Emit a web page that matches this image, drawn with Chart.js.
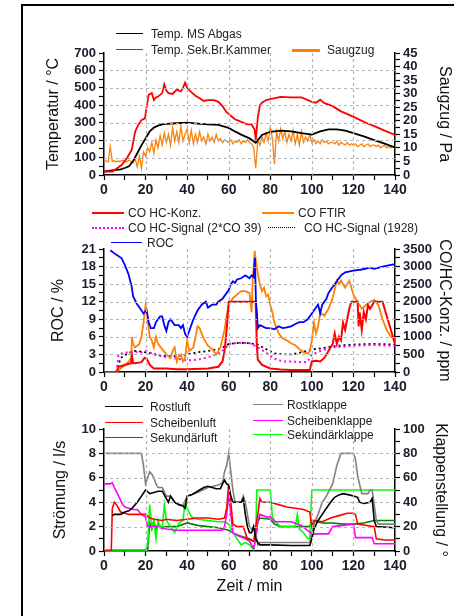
<!DOCTYPE html>
<html>
<head>
<meta charset="utf-8">
<script src="https://cdn.jsdelivr.net/npm/chart.js@4.4.1/dist/chart.umd.min.js"></script>
<style>
body { margin: 0; background: #fff; }
#page { position: relative; width: 454px; height: 616px; overflow: hidden; font-family: 'Liberation Sans', Arial, sans-serif; }
#frameL { position: absolute; left: 21px; top: 4px; width: 2px; height: 612px; background: #000; }
#frameT { position: absolute; left: 21px; top: 4px; width: 433px; height: 2px; background: #000; }
canvas { position: absolute; left: 0; }
.leg { position: absolute; font-size: 12px; color: #222; white-space: nowrap; line-height: 14px; z-index: 5; }
.leg span.ln { position: absolute; top: 7px; }
</style>
</head>
<body>
<div id="page">
  <div id="frameL"></div>
  <div id="frameT"></div>
  <canvas id="c1" width="454" height="160" style="top:40px"></canvas>
  <canvas id="c2" width="454" height="195" style="top:200px"></canvas>
  <canvas id="c3" width="454" height="221" style="top:395px"></canvas>
</div>
<script>
// ---- top panel: temperatures (°C) and Saugzug (Pa) over time (min)
const msAbgasT = [0, 5, 8, 10, 12, 14, 16, 18, 20, 22,
                  24, 26, 28, 30, 35, 40, 45, 50, 55, 60,
                  63, 66, 70, 73, 76, 80, 85, 90, 95, 100,
                  104, 108, 112, 116, 120, 125, 130, 135, 140];
const msAbgas  = [20, 28, 32, 40, 50, 80, 125, 170, 210, 250,
                  272, 283, 290, 293, 297, 300, 295, 290, 288, 270,
                  250, 232, 210, 185, 230, 248, 255, 250, 240, 232,
                  250, 262, 262, 255, 240, 222, 200, 180, 158];

const sekKammerT = [0, 4, 8.5, 11, 13.3, 15, 16.5, 18, 19.7, 20.5,
                    21.5, 23, 24, 25, 26, 28, 29, 30, 31, 33,
                    35, 37, 38, 39, 40, 42, 44, 46, 48, 50,
                    53, 55, 57, 59, 61, 63, 66, 69, 71, 72.5,
                    73, 74, 75, 76, 78, 80, 85, 90, 95, 100,
                    102, 104, 106, 110, 114, 118, 122, 126, 130, 135,
                    140];
const sekKammer  = [20, 20, 57, 96, 143, 250, 287, 315, 325, 390,
                    460, 470, 430, 445, 450, 470, 520, 485, 470, 465,
                    490, 480, 500, 530, 500, 475, 455, 440, 425, 430,
                    430, 420, 395, 360, 340, 320, 305, 290, 290, 260,
                    200, 330, 400, 415, 430, 435, 448, 445, 445, 420,
                    415, 432, 412, 395, 365, 345, 322, 300, 280, 255,
                    230];

// Saugzug, one value per minute from 0 to 140
const saugzug = [5, 5.2, 4.8, 10.5, 5, 5.3, 4.9, 5.1, 5, 5.4,
                 5, 4.8, 5.5, 5, 4.6, 6, 3, 7, 2.5, 8.5,
                 7, 10, 8.5, 12, 8, 13, 10, 14.5, 11, 15.5,
                 12, 15, 11, 17.5, 12.5, 16, 12, 18, 12.5, 15,
                 17, 12, 16.5, 11.5, 15, 12, 16, 12.5, 14, 11.5,
                 15, 12.5, 14, 12, 15, 12.5, 13.5, 12, 13, 12.5,
                 12, 13, 11.5, 12.5, 12, 13, 11.5, 12.5, 12, 13,
                 12, 11.5, 10, 2.5, 13, 11, 14, 12, 15.5, 12.5,
                 17.5, 13.5, 4, 16, 12.5, 17, 13.5, 16, 12, 15,
                 12.5, 16.5, 11.5, 15, 11, 16, 12, 14, 12.5, 15,
                 12, 13, 11.5, 12.5, 11.5, 13, 12, 12.5, 11.5, 12,
                 12, 11.5, 12.5, 11, 12, 11.5, 11, 12, 11, 11.5,
                 11, 11.5, 10.5, 11, 11.5, 10.5, 11, 11.5, 10.5, 11,
                 11, 10.5, 11, 10, 10.5, 11, 10, 10.5, 10, 10.5,
                 10];

// ---- middle panel: ROC (%) and CO / HC (ppm)
const rocT = [3, 6, 8.5, 10, 11.7, 13.3, 14, 15.7, 17.3, 19,
              20.5, 21.5, 22.5, 24, 25, 26, 27, 28, 29, 30,
              31, 32, 34, 36, 37, 38, 39, 40, 41, 43,
              45, 47, 49, 50, 52, 54, 55, 57, 58, 60,
              61, 62, 63, 64, 66, 68, 70, 71, 72, 72.6,
              73.1, 73.6, 74, 75, 78, 80, 82, 84, 86, 88,
              90, 92, 94, 96, 98, 100, 102, 103, 104, 105,
              107, 108, 110, 112, 114, 116, 120, 124, 128, 130,
              134, 138, 140];
const roc  = [20.8, 20, 19.4, 18.3, 16.8, 14.6, 12.9, 11.7, 10.9, 10,
              10.6, 8.5, 7.5, 7.5, 8.5, 9, 9.5, 9.5, 8, 7,
              8.5, 9, 8, 8, 7.5, 8, 6.5, 6, 7, 9,
              10.5, 11.5, 12, 11, 11.5, 11.5, 12, 12.5, 13, 14,
              15, 15.5, 15.2, 15.8, 16, 16.5, 16, 16.5, 16.2, 19.5,
              12, 10, 7.5, 8, 7.5, 7.5, 7.3, 7.8, 7.5, 7.6,
              7.8, 8.2, 8.5, 8.5, 9, 10, 11, 11.5, 10, 11.5,
              12.5, 13.5, 14.5, 15.5, 16.5, 17, 17.3, 17.5, 17.8, 17.6,
              18, 18.3, 18.4];

const coFtirT = [6, 8, 10, 12, 13, 13.5, 14, 15, 17, 18,
                 19, 20, 21, 22, 23, 24, 25, 26, 28, 30,
                 32, 33, 34, 35, 36, 37, 38, 39, 40, 41,
                 43, 45, 46, 48, 50, 52, 54, 55, 56, 58,
                 59, 60, 62, 64, 66, 68, 70, 71, 71.5, 72,
                 72.5, 73, 74, 75, 76, 77, 78, 79, 80, 81,
                 82, 84, 86, 88, 90, 92, 94, 96, 98, 99,
                 100, 101, 102, 103, 104, 106, 108, 110, 112, 113,
                 114, 116, 118, 120, 122, 124, 126, 128, 130, 132,
                 134, 136, 138, 140];
const coFtir  = [0, 100, 200, 300, 400, 1000, 800, 700, 800, 1000,
                 1400, 1900, 1500, 1000, 900, 700, 1000, 800, 650, 500,
                 400, 600, 700, 300, 450, 500, 300, 400, 900, 600,
                 700, 1300, 1250, 950, 750, 650, 500, 600, 700, 1200,
                 1600, 1900, 2100, 2200, 2300, 2300, 2250, 1700, 2600, 3000,
                 3450, 3200, 2800, 2500, 2300, 2400, 2150, 2200, 1900, 1700,
                 1400, 1100, 950, 900, 820, 760, 650, 560, 520, 600,
                 900, 1400, 1100, 1300, 1700, 1600, 1800, 2100, 2600, 2500,
                 2600, 2400, 2600, 2200, 2000, 1800, 1900, 2000, 2050, 1900,
                 1500, 1200, 1000, 950];

const coHcT = [0, 6, 7, 10, 13, 13.5, 14, 15, 18, 19.5,
               20.5, 22, 24, 30, 35, 40, 50, 55, 57, 58,
               59, 60, 72, 73, 73.5, 74, 76, 80, 85, 90,
               99, 100, 102, 104, 106, 108, 110, 111, 112, 113,
               114, 115, 116, 117, 118, 119, 120, 122, 122.5, 123,
               124, 125, 126, 127, 128, 130, 134, 136, 138, 140];
const coHc  = [0, 0, 150, 200, 250, 450, 250, 250, 280, 400,
               380, 200, 100, 100, 80, 80, 100, 150, 300, 600,
               1200, 2000, 2000, 2000, 800, 350, 200, 100, 70, 60,
               60, 300, 320, 300, 400, 600, 800, 1100, 800, 1000,
               900, 1400, 1200, 1500, 1800, 2000, 2000, 2000, 1300, 1700,
               1200, 1700, 1500, 1900, 1800, 2000, 2000, 1600, 1200, 800];

const hcSig39T = [6, 7, 10, 15, 18, 20, 25, 30, 35, 40,
                  45, 50, 55, 58, 60, 65, 70, 74, 78, 82,
                  86, 90, 95, 98, 100, 105, 110, 115, 120, 130,
                  140];
const hcSig39  = [0, 500, 550, 580, 560, 600, 480, 420, 380, 330,
                  350, 420, 520, 650, 800, 830, 820, 700, 550, 380,
                  300, 300, 280, 290, 500, 620, 700, 720, 750, 770,
                  740];

const hcSig1928T = [6, 8, 12, 15, 20, 25, 30, 35, 40, 45,
                    50, 55, 58, 60, 65, 70, 74, 78, 82, 86,
                    90, 95, 100, 105, 110, 115, 120, 130, 140];
const hcSig1928  = [0, 400, 550, 600, 560, 500, 450, 450, 500, 560,
                    600, 650, 720, 800, 830, 820, 780, 650, 530, 500,
                    500, 560, 640, 680, 730, 760, 780, 800, 780];

// ---- bottom panel: air flows (l/s) and flap positions (°)
const rostluftT = [4, 5, 8, 10, 12, 14, 16, 18, 20, 22,
                   24, 26, 28, 30, 31, 32, 34, 36, 38, 39,
                   40, 42, 44, 46, 48, 50, 52, 54, 56, 57,
                   58, 59, 60, 61, 62, 64, 66, 67, 68, 69,
                   70, 71, 72, 73, 74, 75, 80, 90, 99, 100,
                   101, 103, 105, 107, 109, 111, 113, 115, 118, 120,
                   122, 123, 125, 128, 129, 130, 131, 140];
const rostluft  = [2.9, 3, 3, 3.2, 3.3, 3.6, 4, 4.5, 5, 4.7,
                   4.8, 4.9, 4.9, 4.3, 4, 4.5, 4, 3.8, 3.7, 3.5,
                   4.5, 4.6, 4.8, 5, 5.2, 5.3, 5.2, 5.1, 5.1, 5.5,
                   5.8, 5.5, 5.4, 4.5, 4, 4, 4, 4.3, 3, 2,
                   1.5, 1.5, 2, 1, 0.7, 0.5, 0.5, 0.45, 0.45, 1,
                   1.8, 2.5, 3, 3.5, 4, 4.4, 4.6, 4.7, 4.6, 4.5,
                   4.4, 4, 3.9, 4, 4.3, 2.5, 2, 1.9];

const scheibenluftT = [0, 3.5, 4, 5, 6, 8, 10, 12, 15, 20,
                       22, 24, 28, 30, 35, 40, 45, 50, 55, 58,
                       59, 60, 61, 62, 64, 67, 68, 69, 72, 73,
                       74, 75, 76, 80, 84, 88, 92, 96, 99, 100,
                       101, 105, 109, 113, 117, 120, 121, 122, 130, 131,
                       135, 140];
const scheibenluft  = [0, 0, 3.5, 4, 3.8, 3.2, 3.1, 3, 3, 3,
                       2.7, 2.6, 2.5, 2.6, 2.5, 2.6, 2.7, 2.7, 2.6, 2.7,
                       3.5, 5.5, 4, 2.2, 2, 2, 1.5, 1, 0.8, 2,
                       3, 4.3, 4, 4, 3.8, 3.6, 3.5, 3.4, 3.2, 2,
                       2.5, 2.4, 2.7, 2.9, 3.1, 3.1, 3, 2.2, 2, 1,
                       0.9, 0.9];

const sekundaerluftT = [0, 21, 22, 23, 24, 25, 26, 28, 30, 35,
                        40, 45, 50, 55, 60, 63, 66, 70, 72, 73,
                        74, 75, 80, 82, 85, 90, 95, 99, 100, 105,
                        110, 115, 120, 125, 130, 140];
const sekundaerluft  = [0.05, 0.05, 2.3, 1.8, 2.4, 1.7, 2.2, 1.9, 2, 2,
                        2.3, 2.1, 2, 1.9, 1.7, 1.4, 1.2, 1, 0.8, 1,
                        2.4, 2.7, 2.6, 2.2, 2, 2, 2, 2, 2.5, 2.3,
                        2.3, 2.2, 2.2, 2.3, 2.5, 2.5];

const rostklappeT = [0, 18, 19, 20, 21, 22, 23, 24, 25, 26,
                     28, 30, 32, 34, 36, 38, 40, 42, 45, 50,
                     55, 57, 58, 59, 60, 61, 62, 63, 66, 67,
                     68, 69, 70, 71, 72, 73, 74, 75, 99, 100,
                     101, 103, 105, 107, 110, 112, 114, 120, 121, 122,
                     124, 127, 128, 129, 130, 131, 132, 140];
const rostklappe  = [80, 80, 70, 55, 60, 65, 63, 60, 55, 52,
                     52, 45, 45, 40, 38, 37, 45, 46, 48, 52,
                     54, 56, 65, 70, 80, 65, 50, 40, 40, 45,
                     40, 30, 20, 18, 20, 15, 5, 7, 7, 15,
                     22, 30, 40, 45, 55, 70, 80, 80, 75, 62,
                     47, 47, 50, 50, 38, 25, 22, 22];

const scheibenklappeT = [0, 3, 4, 5, 7, 9, 10, 12, 14, 16,
                         18, 20, 21, 25, 30, 35, 57, 58, 59, 60,
                         61, 62, 65, 68, 70, 72, 73, 74, 75, 78,
                         80, 82, 90, 95, 100, 108, 110, 115, 120, 121,
                         129, 130, 140];
const scheibenklappe  = [55, 55, 56, 52, 45, 38, 36, 35, 34, 34,
                         30, 28, 20, 20, 18, 17, 17, 20, 30, 45,
                         30, 15, 12, 10, 8, 2, 10, 25, 30, 28,
                         28, 24, 24, 21, 14, 14, 20, 21, 22, 11,
                         11, 6, 6];

const sekundaerklappeT = [0, 20, 21, 22, 23, 24, 25, 26, 27, 28,
                          29, 30, 32, 34, 36, 38, 39, 40, 42, 45,
                          50, 55, 58, 60, 62, 64, 66, 68, 70, 71,
                          72, 73, 73.5, 80, 81, 83, 85, 90, 92, 93,
                          94, 96, 98, 99, 100, 140];
const sekundaerklappe  = [1, 1, 5, 38, 20, 25, 10, 25, 20, 18,
                          38, 25, 20, 15, 23, 25, 40, 35, 28, 26,
                          25, 24, 24, 22, 15, 10, 5, 7, 5, 3,
                          1, 12, 50, 50, 28, 23, 20, 20, 20, 30,
                          18, 15, 10, 10, 50, 50];

// grid positions (values of the labelled ticks inside each plot)
const timeGrid = [20, 40, 60, 80, 100, 120];
const tempGrid = [100, 200, 300, 400, 500, 600];
const rocGrid = [3, 6, 9, 12, 15, 18];
const flowGrid = [2, 4, 6, 8];

// ---- chart helpers
const FONT = "'Liberation Sans', Arial, sans-serif";
const tickFont = { family: FONT, size: 13, weight: 'bold' };
const xTickFont = { family: FONT, size: 14, weight: 'bold' };
const titleFont = { family: FONT, size: 16 };
const TICK_COLOR = '#1c1c2c';
const GRID = '#b4b4b4';

function pts(xs, ys) {
    return xs.map((x, i) => ({ x: x, y: ys[i] }));
}

function line(label, xs, ys, color, axis, width, dash) {
    return {
        label: label,
        data: pts(xs, ys),
        borderColor: color,
        borderWidth: width || 1.5,
        borderDash: dash || [],
        pointRadius: 0,
        tension: 0,
        fill: false,
        yAxisID: axis
    };
}

// dashed grey grid, positioned through the chart's own x / y scales
function dashedGrid(xs, ys) {
    return {
        id: 'dashedGrid',
        afterDatasetsDraw(chart) {
            const ctx = chart.ctx;
            const a = chart.chartArea;
            const sx = chart.scales.x;
            const sy = chart.scales.y;
            ctx.save();
            ctx.globalAlpha = 1;
            ctx.globalCompositeOperation = 'source-over';
            ctx.strokeStyle = GRID;
            ctx.lineWidth = 1.2;
            ctx.setLineDash([3, 3]);
            ctx.beginPath();
            xs.forEach(v => {
                const px = Math.round(sx.getPixelForValue(v)) + 0.5;
                ctx.moveTo(px, a.top);
                ctx.lineTo(px, a.bottom);
            });
            ys.forEach(v => {
                const py = Math.round(sy.getPixelForValue(v)) + 0.5;
                ctx.moveTo(a.left, py);
                ctx.lineTo(a.right, py);
            });
            ctx.stroke();
            ctx.restore();
        }
    };
}

function xAxis(height, title) {
    return {
        type: 'linear', position: 'bottom', min: 0, max: 140,
        ticks: { stepSize: 10, autoSkip: false, maxRotation: 0, padding: 2, color: TICK_COLOR, font: xTickFont,
                 callback: v => v % 20 === 0 ? v : '' },
        grid: { drawOnChartArea: false, tickLength: 5, tickColor: '#000', tickWidth: 1.2 },
        border: { color: '#000', width: 1.5 },
        title: title ? { display: true, text: title, font: titleFont, color: '#111', padding: { top: 0, bottom: 20 } }
                     : { display: false },
        afterFit: s => { s.height = height; }
    };
}

function valueAxis(position, min, max, step, every, title, titlePad, width) {
    const major = v => Math.abs(v / every - Math.round(v / every)) < 1e-6;
    return {
        type: 'linear', position: position, min: min, max: max,
        ticks: { stepSize: step, autoSkip: false, padding: 3, color: TICK_COLOR, font: tickFont,
                 callback: v => major(v) ? Math.round(v) : '' },
        grid: { drawOnChartArea: false, tickLength: 5, tickColor: '#000', tickWidth: 1.2 },
        border: { color: '#000', width: 1.5 },
        title: { display: true, text: title, font: titleFont, color: '#111', padding: { top: titlePad, bottom: 0 } },
        afterFit: s => { s.width = width; }
    };
}

function makeChart(id, datasets, scales, padTop, gridX, gridY) {
    return new Chart(document.getElementById(id), {
        type: 'line',
        data: { datasets: datasets },
        plugins: [dashedGrid(gridX, gridY)],
        options: {
            responsive: false,
            animation: false,
            layout: { padding: { top: padTop } },
            plugins: { legend: { display: false } },
            scales: scales
        }
    });
}

const minutes = saugzug.map((v, i) => i);

makeChart('c1', [
    line('Temp. Sek.Br.Kammer', sekKammerT, sekKammer, '#ff0000', 'y', 1.8),
    line('Temp. MS Abgas', msAbgasT, msAbgas, '#000000', 'y', 1.8),
    line('Saugzug', minutes, saugzug, '#ff8000', 'y2', 1.3)
], {
    x: xAxis(25),
    y: valueAxis('left', 0, 700, 50, 100, 'Temperatur / °C', 44, 104),
    y2: valueAxis('right', 0, 45, 2.5, 5, 'Saugzug / Pa', 0, 59)
}, 13, timeGrid, tempGrid);

makeChart('c2', [
    line('ROC', rocT, roc, '#0000ff', 'y', 1.8),
    line('CO HC-Konz.', coHcT, coHc, '#ff0000', 'y2', 2),
    line('CO FTIR', coFtirT, coFtir, '#ff8000', 'y2', 1.8),
    line('CO HC-Signal (2*CO 39)', hcSig39T, hcSig39, '#ff00ff', 'y2', 2, [2, 3]),
    line('CO HC-Signal (1928)', hcSig1928T, hcSig1928, '#000000', 'y2', 1.8, [2, 3])
], {
    x: xAxis(23),
    y: valueAxis('left', 0, 21, 1.5, 3, 'ROC / %', 49, 104),
    y2: valueAxis('right', 0, 3500, 250, 500, 'CO/HC-Konz. / ppm', 0, 59)
}, 49, timeGrid, rocGrid);

makeChart('c3', [
    line('Rostluft', rostluftT, rostluft, '#000000', 'y', 1.6),
    line('Scheibenluft', scheibenluftT, scheibenluft, '#ff0000', 'y', 1.6),
    line('Rostklappe', rostklappeT, rostklappe, '#808080', 'y2', 1.6),
    line('Scheibenklappe', scheibenklappeT, scheibenklappe, '#ff00ff', 'y2', 1.6),
    line('Sekundärklappe', sekundaerklappeT, sekundaerklappe, '#00ff00', 'y2', 1.6),
    line('Sekundärluft', sekundaerluftT, sekundaerluft, '#008000', 'y', 1.6)
], {
    x: xAxis(65, 'Zeit / min'),
    y: valueAxis('left', 0, 10, 1, 2, 'Strömung / l/s', 51, 104),
    y2: valueAxis('right', 0, 100, 10, 20, 'Klappenstellung / °', 4, 59)
}, 34, timeGrid, flowGrid);

// ---- legends, placed like in the original figure
const legendItems = [
    { text: 'Temp. MS Abgas', color: '#000', x: 116, y: 34, len: 27, w: 1.2, gap: 8 },
    { text: 'Temp. Sek.Br.Kammer', color: '#ff0000', x: 116, y: 50, len: 27, w: 1.2, gap: 8 },
    { text: 'Saugzug', color: '#ff8000', x: 292, y: 50, len: 28, w: 3, gap: 7 },
    { text: 'CO HC-Konz.', color: '#ff0000', x: 92, y: 213, len: 32, w: 2, gap: 4 },
    { text: 'CO FTIR', color: '#ff8000', x: 262, y: 213, len: 32, w: 2, gap: 4 },
    { text: 'CO HC-Signal (2*CO 39)', color: '#ff00ff', x: 92, y: 228, len: 32, w: 2, gap: 4, dotted: true },
    { text: 'CO HC-Signal (1928)', color: '#000', x: 268, y: 228, len: 27, w: 1.5, gap: 9, dotted: true },
    { text: 'ROC', color: '#0000ff', x: 111, y: 243, len: 31, w: 1.5, gap: 5 },
    { text: 'Rostluft', color: '#000', x: 105, y: 407, len: 38, w: 1.5, gap: 7 },
    { text: 'Scheibenluft', color: '#ff0000', x: 105, y: 423, len: 38, w: 1.5, gap: 7 },
    { text: 'Sekundärluft', color: '#008000', x: 105, y: 438, len: 38, w: 1.5, gap: 7 },
    { text: 'Rostklappe', color: '#808080', x: 253, y: 405, len: 30, w: 1.5, gap: 4 },
    { text: 'Scheibenklappe', color: '#ff00ff', x: 253, y: 421, len: 30, w: 1.5, gap: 4 },
    { text: 'Sekundärklappe', color: '#00ff00', x: 253, y: 435, len: 30, w: 1.5, gap: 4 }
];

const page = document.getElementById('page');
legendItems.forEach(it => {
    const d = document.createElement('div');
    d.className = 'leg';
    d.style.left = it.x + 'px';
    d.style.top = (it.y - 7) + 'px';
    d.style.paddingLeft = (it.len + it.gap) + 'px';
    const ln = document.createElement('span');
    ln.className = 'ln';
    ln.style.left = '0px';
    ln.style.width = it.len + 'px';
    ln.style.marginTop = (-it.w / 2) + 'px';
    ln.style.borderTop = it.w + 'px ' + (it.dotted ? 'dotted ' : 'solid ') + it.color;
    d.appendChild(ln);
    d.appendChild(document.createTextNode(it.text));
    page.appendChild(d);
});
</script>
</body>
</html>
